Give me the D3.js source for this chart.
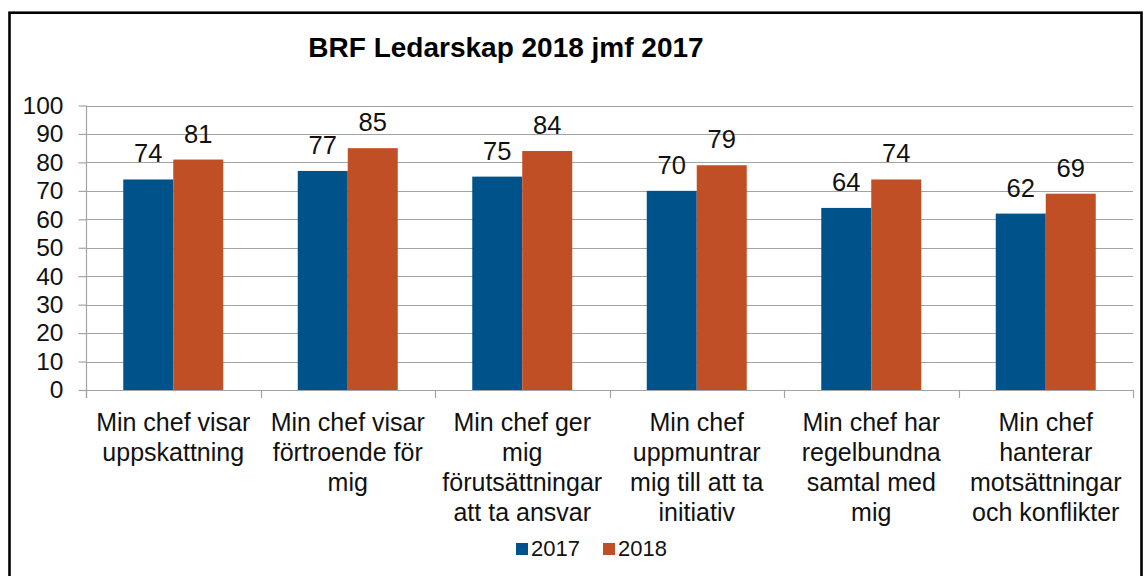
<!DOCTYPE html>
<html>
<head>
<meta charset="utf-8">
<script src="https://cdn.jsdelivr.net/npm/d3@7"></script>
<style>
  html, body { margin: 0; padding: 0; background: #fff; }
  svg { display: block; font-family: "Liberation Sans", Arial, sans-serif; }
</style>
</head>
<body>
<svg id="chart" width="1146" height="576"></svg>
<script>
// Chart content
const title = "BRF Ledarskap 2018 jmf 2017";
const categories = [
  ["Min chef visar", "uppskattning"],
  ["Min chef visar", "förtroende för", "mig"],
  ["Min chef ger", "mig", "förutsättningar", "att ta ansvar"],
  ["Min chef", "uppmuntrar", "mig till att ta", "initiativ"],
  ["Min chef har", "regelbundna", "samtal med", "mig"],
  ["Min chef", "hanterar", "motsättningar", "och konflikter"]
];
const seriesNames = ["2017", "2018"];
const values2017 = [74, 77, 75, 70, 64, 62];
const values2018 = [81, 85, 84, 79, 74, 69];
const yTicks = [0, 10, 20, 30, 40, 50, 60, 70, 80, 90, 100];
const colors = ["#00538A", "#C04F25"];

const svg = d3.select("#chart");
const plot = { left: 86, right: 1133, top: 105.5, bottom: 390 };

// Outer frame of the chart area
svg.append("rect")
  .attr("x", 9.5).attr("y", 12.7)
  .attr("width", 1132).attr("height", 600)
  .attr("fill", "none").attr("stroke", "#000").attr("stroke-width", 2.6);

// Title
svg.append("text")
  .attr("x", 506).attr("y", 57)
  .attr("text-anchor", "middle")
  .attr("font-weight", "bold").attr("font-size", 28)
  .attr("fill", "#000")
  .text(title);

const keys = categories.map((c, i) => i);
const x0 = d3.scaleBand().domain(keys)
  .range([plot.left, plot.right])
  .paddingInner(0.427).paddingOuter(0.2135);
const x1 = d3.scaleBand().domain(seriesNames).range([0, x0.bandwidth()]);
const y = d3.scaleLinear().domain([0, 100]).range([plot.bottom, plot.top]);

const gridColor = "#a3a3a3";

// Horizontal gridlines
svg.append("g").selectAll("line").data(yTicks).join("line")
  .attr("x1", plot.left).attr("x2", plot.right)
  .attr("y1", d => Math.round(y(d)) + 0.5).attr("y2", d => Math.round(y(d)) + 0.5)
  .attr("stroke", gridColor).attr("stroke-width", 1.2);

// Y axis with tick labels
const yAxis = svg.append("g")
  .attr("transform", `translate(${plot.left + 0.5},0)`)
  .call(d3.axisLeft(y).tickValues(yTicks).tickSizeInner(8).tickSizeOuter(0).tickPadding(15));
yAxis.select(".domain").remove();
yAxis.selectAll(".tick line").attr("stroke", gridColor).attr("stroke-width", 1.2);
yAxis.selectAll(".tick text")
  .attr("font-size", 24.5).attr("fill", "#111")
  .attr("font-family", "'Liberation Sans', Arial, sans-serif");

svg.append("line")
  .attr("x1", plot.left + 0.5).attr("x2", plot.left + 0.5)
  .attr("y1", y(100)).attr("y2", plot.bottom + 8)
  .attr("stroke", gridColor).attr("stroke-width", 1.2);

// Category axis line and boundary ticks
svg.append("line")
  .attr("x1", plot.left).attr("x2", plot.right)
  .attr("y1", plot.bottom + 0.5).attr("y2", plot.bottom + 0.5)
  .attr("stroke", gridColor).attr("stroke-width", 1.2);
const step = x0.step();
const boundaries = keys.map(k => x0(k) - x0.paddingInner() * step / 2)
  .concat([x0(keys[keys.length - 1]) + x0.bandwidth() + x0.paddingInner() * step / 2]);
svg.append("g").selectAll("line").data(boundaries).join("line")
  .attr("x1", d => Math.round(d) + 0.5).attr("x2", d => Math.round(d) + 0.5)
  .attr("y1", plot.bottom).attr("y2", plot.bottom + 8)
  .attr("stroke", gridColor).attr("stroke-width", 1.2);

// Bars
const rows = keys.map(k => ({ key: k, vals: [values2017[k], values2018[k]] }));
const groups = svg.append("g").selectAll("g").data(rows).join("g")
  .attr("transform", d => `translate(${x0(d.key)},0)`);
groups.selectAll("rect").data(d => d.vals.map((v, i) => ({ s: seriesNames[i], v, i })))
  .join("rect")
  .attr("x", d => x1(d.s))
  .attr("width", x1.bandwidth())
  .attr("y", d => y(d.v))
  .attr("height", d => y(0) - y(d.v))
  .attr("fill", d => colors[d.i]);

// Value labels above bars
groups.selectAll("text").data(d => d.vals.map((v, i) => ({ s: seriesNames[i], v, i })))
  .join("text")
  .attr("x", d => x1(d.s) + x1.bandwidth() / 2)
  .attr("y", d => y(d.v) - 17)
  .attr("text-anchor", "middle")
  .attr("font-size", 25.5).attr("fill", "#111")
  .text(d => d.v);

// Category labels
const catG = svg.append("g").selectAll("text").data(rows).join("text")
  .attr("text-anchor", "middle")
  .attr("font-size", 25).attr("fill", "#111");
catG.selectAll("tspan").data(d => categories[d.key].map(line => ({ line, k: d.key })))
  .join("tspan")
  .attr("x", d => x0(d.k) + x0.bandwidth() / 2)
  .attr("y", (d, i) => 431 + i * 30)
  .text(d => d.line);

// Legend
const legend = svg.append("g").attr("transform", "translate(516,543)");
const legendX = [0, 87];
seriesNames.forEach((name, i) => {
  const g = legend.append("g").attr("transform", `translate(${legendX[i]},0)`);
  g.append("rect").attr("x", 0).attr("y", 0).attr("width", 12).attr("height", 12)
    .attr("fill", colors[i]);
  g.append("text").attr("x", 15).attr("y", 13)
    .attr("font-size", 22).attr("fill", "#111").text(name);
});
</script>
</body>
</html>
